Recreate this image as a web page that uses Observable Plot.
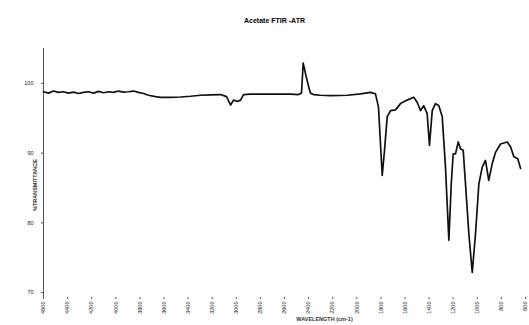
<!DOCTYPE html>
<html>
<head>
<meta charset="utf-8">
<script src="https://cdn.jsdelivr.net/npm/d3@7"></script>
<script src="https://cdn.jsdelivr.net/npm/@observablehq/plot@0.6"></script>
<style>
  body { margin: 0; background: #fff; font-family: "Liberation Sans", Arial, sans-serif; }
  #title { height: 30px; width: 529px; text-align: center; font-size: 7px; font-weight: bold; line-height: 7px; box-sizing: border-box; }
  #title span { position: relative; left: 10px; top: 17px; }
</style>
</head>
<body>
<div id="title"><span>Acetate FTIR -ATR</span></div>
<div id="chart"></div>
<script>
const title = "Acetate FTIR -ATR";
const xLabel = "WAVELENGTH (cm-1)";
const yLabel = "%TRANSMITTANCE";
const xTicks = [4600, 4400, 4200, 4000, 3800, 3600, 3400, 3200, 3000, 2800, 2600, 2400, 2200, 2000, 1800, 1600, 1400, 1200, 1000, 800, 600];
const yTicks = [100, 90, 80, 70];

const wavenumber = [4600, 4558, 4517, 4476, 4434, 4393, 4351, 4310, 4268, 4227, 4185, 4144, 4102, 4061, 4019, 3978, 3936, 3895, 3853, 3812, 3770, 3729, 3670, 3629, 3546, 3463, 3380, 3297, 3214, 3131, 3081, 3048, 3023, 2990, 2965, 2940, 2882, 2799, 2716, 2633, 2550, 2484, 2459, 2445, 2434, 2426, 2409, 2396, 2384, 2359, 2301, 2218, 2077, 1969, 1886, 1845, 1820, 1789, 1770, 1748, 1720, 1679, 1637, 1582, 1527, 1499, 1471, 1445, 1416, 1397, 1374, 1347, 1319, 1291, 1264, 1236, 1216, 1200, 1181, 1158, 1139, 1117, 1098, 1070, 1042, 1015, 987, 959, 932, 905, 876, 849, 807, 752, 724, 697, 664, 641];
const transmittance = [98.8, 98.6, 98.9, 98.7, 98.8, 98.6, 98.75, 98.55, 98.7, 98.8, 98.6, 98.85, 98.65, 98.8, 98.7, 98.9, 98.75, 98.8, 98.9, 98.7, 98.55, 98.3, 98.1, 98.0, 98.0, 98.05, 98.15, 98.3, 98.35, 98.4, 98.1, 96.9, 97.6, 97.4, 97.6, 98.4, 98.45, 98.45, 98.45, 98.45, 98.45, 98.4, 98.6, 102.9, 102.1, 101.4, 100.2, 99.25, 98.6, 98.4, 98.3, 98.25, 98.3, 98.5, 98.7, 98.5, 96.6, 86.8, 90.4, 95.2, 96.1, 96.2, 97.1, 97.6, 98.0, 97.3, 96.1, 96.8, 95.65, 91.1, 96.1, 97.1, 96.8, 95.2, 88.0, 77.5, 85.6, 89.9, 89.9, 91.6, 90.6, 90.4, 85.6, 78.4, 72.9, 78.4, 85.6, 88.0, 88.95, 86.1, 88.5, 90.1, 91.3, 91.6, 90.9, 89.5, 89.2, 87.8];

const data = wavenumber.map((w, i) => ({w, t: transmittance[i]}));

const font = "Liberation Sans, Arial, sans-serif";
const chart = Plot.plot({
  width: 529,
  height: 295,
  marginTop: 18,
  marginBottom: 28,
  marginLeft: 43,
  marginRight: 4,
  style: {fontFamily: font, fontSize: "5.5px", background: "#fff", color: "#222"},
  x: {domain: [4600, 600], ticks: xTicks},
  y: {domain: [69.3, 105], ticks: yTicks},
  marks: [
    Plot.ruleX([4600], {stroke: "#555", strokeWidth: 1}),
    Plot.axisY({ticks: yTicks, tickSize: 2, tickPadding: 8, label: null, fontSize: 5.5, stroke: "#555", tickFormat: d3.format("d")}),
    Plot.axisX({ticks: xTicks, tickSize: 2, tickRotate: -90, tickPadding: 2, label: null, fontSize: 5.5, stroke: "#555", tickFormat: d3.format("d")}),
    Plot.line(data, {x: "w", y: "t", stroke: "#111", strokeWidth: 1.7, curve: "linear"}),
    Plot.text([yLabel], {frameAnchor: "left", dx: -8, dy: 38, rotate: -90, fontSize: 5.5, fontWeight: "bold", fill: "#333"}),
    Plot.text([xLabel], {frameAnchor: "bottom", dx: 40, dy: 23, fontSize: 5.5, fontWeight: "bold", fill: "#333"})
  ]
});
document.getElementById("chart").appendChild(chart);
</script>
</body>
</html>
